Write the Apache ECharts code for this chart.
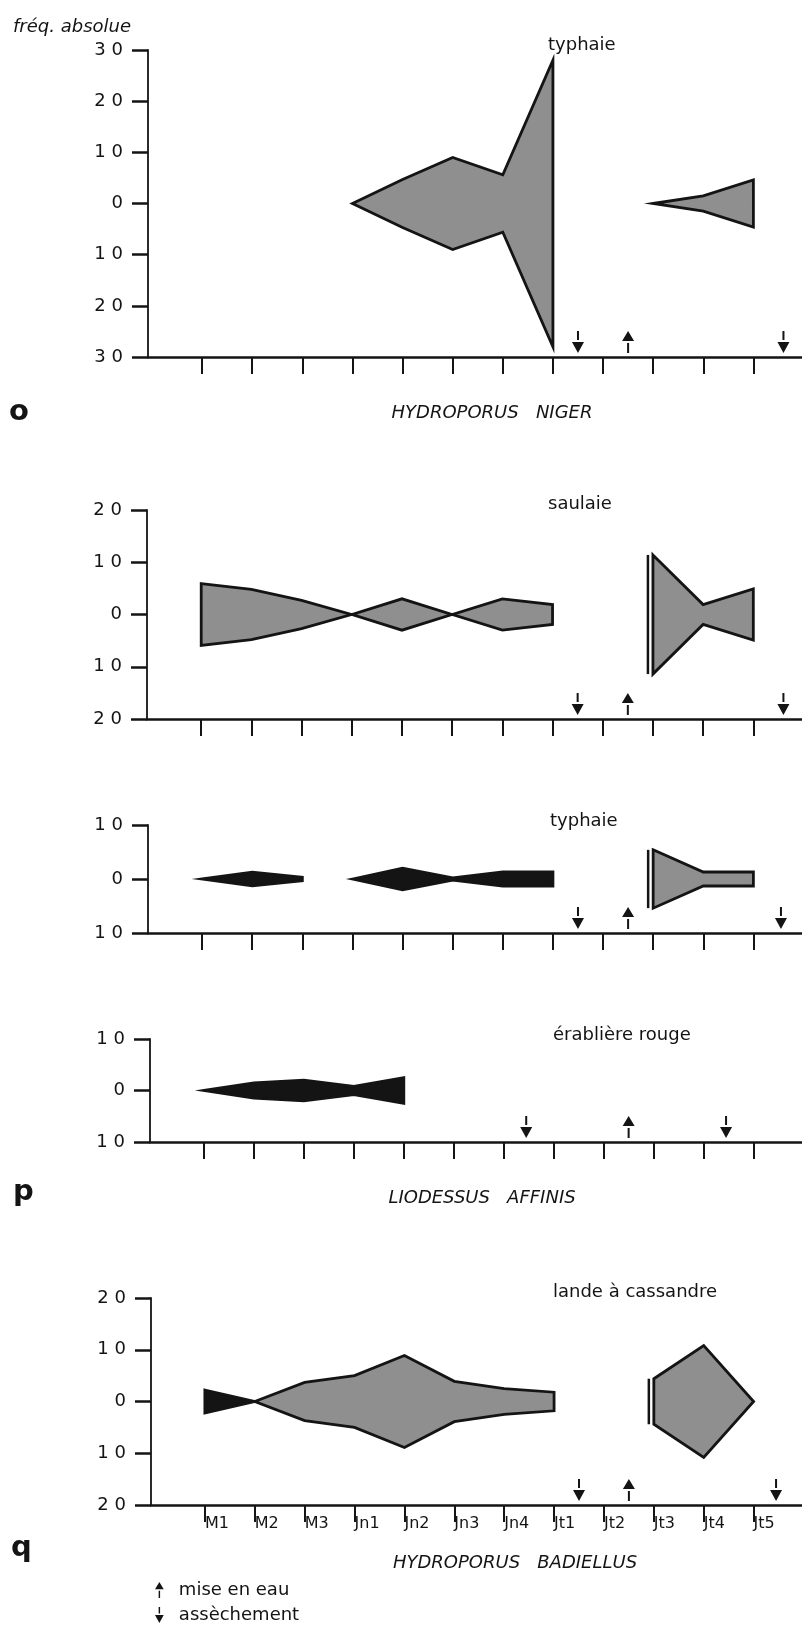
<!DOCTYPE html>
<html>
<head>
<meta charset="utf-8">
<script src="https://cdn.jsdelivr.net/npm/echarts@6/dist/echarts.min.js"></script>
<style>
html, body { margin: 0; padding: 0; background: #fff; }
#chart { width: 802px; height: 1629px; }
</style>
</head>
<body>
<div id="chart"></div>
<script>
// sampling dates (labels under the last panel)
const dates = ['M1', 'M2', 'M3', 'Jn1', 'Jn2', 'Jn3', 'Jn4', 'Jt1', 'Jt2', 'Jt3', 'Jt4', 'Jt5']

// kite half-widths (fréq. absolue) per date, null = no kite
// o  Hydroporus niger, typhaie
const nigerTyphA = [null, null, null, 0, 4.7, 9, 5.6, 28, null, null, null, null]
const nigerTyphB = [null, null, null, null, null, null, null, null, null, 0, 1.5, 4.6]
// p  Liodessus affinis
const affSaulA = [5.9, 4.8, 2.7, 0, 3, 0, 3, 1.9, null, null, null, null]
const affSaulB = [null, null, null, null, null, null, null, null, null, 11.4, 1.9, 4.9]
const affTyphA = [0, 1.25, 0.3, null, null, null, null, null, null, null, null, null]
const affTyphB = [null, null, null, 0, 2, 0.2, 1.3, 1.3, null, null, null, null]
const affTyphC = [null, null, null, null, null, null, null, null, null, 5.4, 1.3, 1.3]
const affErab = [0, 1.5, 2, 0.8, 2.5, null, null, null, null, null, null, null]
// q  Hydroporus badiellus, lande à cassandre
const badLandeA = [2.2, 0, null, null, null, null, null, null, null, null, null, null]
const badLandeB = [null, 0, 3.7, 5, 8.9, 3.9, 2.5, 1.8, null, null, null, null]
const badLandeC = [null, null, null, null, null, null, null, null, null, 4.4, 10.8, 0]

// axis half-range of each panel
const yMax = [30, 20, 10, 10, 20]

// mise en eau (up) / assèchement (down) arrows, in date units
const upArrows = [[9.5], [9.5], [9.5], [9.5], [9.5]]
const downArrows = [[8.5, 12.6], [8.5, 12.6], [8.5, 12.55], [7.45, 11.45], [8.5, 12.45]]

const FONT = 'DejaVu Sans'
const INK = '#141414'
const GREY = '#8f8f8f'
const UP = 'path://M6,0 L12,10 L0,10 Z M5,12 L7,12 L7,22 L5,22 Z'
const DOWN = 'path://M5,0 L7,0 L7,9 L5,9 Z M0,11 L12,11 L6,22 Z'

// y-axis position and vertical extent of each panel
const grids = [
  { left: 148, top: 50, height: 307 },
  { left: 147, top: 510, height: 209 },
  { left: 148, top: 825, height: 108 },
  { left: 150, top: 1039, height: 103 },
  { left: 151, top: 1298, height: 207 }
]

const tickVals = dates.map((d, i) => i + 1)

function kite(g, vals, fill, doubleStart) {
  return {
    type: 'custom', xAxisIndex: g, yAxisIndex: g, silent: true,
    data: vals.map((v, i) => [i + 1, v == null ? 0 : v]),
    encode: { x: 0, y: 1 },
    renderItem(params, api) {
      const i = params.dataIndex
      if (vals[i] == null || (i > 0 && vals[i - 1] != null)) return null
      const top = [], bot = []
      for (let j = i; j < vals.length && vals[j] != null; j++) {
        top.push(api.coord([j + 1, vals[j]]))
        bot.unshift(api.coord([j + 1, -vals[j]]))
      }
      const kids = [{
        type: 'polygon', shape: { points: top.concat(bot) },
        style: { fill, stroke: INK, lineWidth: 2.8, lineJoin: 'miter' }
      }]
      if (doubleStart) {
        const a = top[0], b = bot[bot.length - 1]
        kids.push({ type: 'line', shape: { x1: a[0] - 5, y1: a[1], x2: b[0] - 5, y2: b[1] }, style: { stroke: INK, lineWidth: 2.5 } })
      }
      return { type: 'group', children: kids }
    }
  }
}

function arrows(g, xs, up) {
  return {
    type: 'scatter', name: up ? 'mise en eau' : 'assèchement',
    xAxisIndex: g, yAxisIndex: g, silent: true, z: 5,
    data: xs.map((x) => [x, -yMax[g]]),
    symbol: up ? UP : DOWN, symbolSize: [12, 22], symbolOffset: [0, -15],
    itemStyle: { color: INK, opacity: 1 }
  }
}

const series = [
  kite(0, nigerTyphA, GREY), kite(0, nigerTyphB, GREY),
  kite(1, affSaulA, GREY), kite(1, affSaulB, GREY, true),
  kite(2, affTyphA, INK), kite(2, affTyphB, INK), kite(2, affTyphC, GREY, true),
  kite(3, affErab, INK),
  kite(4, badLandeA, INK), kite(4, badLandeB, GREY), kite(4, badLandeC, GREY, true)
]
grids.forEach((g, i) => {
  series.push(arrows(i, upArrows[i], true))
  series.push(arrows(i, downArrows[i], false))
})

function txt(text, x, y, font, align) {
  return {
    type: 'text', silent: true,
    style: {
      text, x, y, fill: INK, font: font + ' "' + FONT + '"',
      textAlign: align || 'left', textVerticalAlign: 'middle'
    }
  }
}

const chart = echarts.init(document.getElementById('chart'))
chart.setOption({
  animation: false,
  backgroundColor: '#fff',
  textStyle: { fontFamily: FONT, color: INK },
  grid: grids.map((g) => ({ left: g.left, top: g.top, height: g.height, right: 0 })),
  xAxis: grids.map((g, i) => ({
    gridIndex: i, type: 'value', min: -0.08, max: 12.97,
    axisLine: { onZero: false, lineStyle: { color: INK, width: 2.5 } },
    axisTick: { customValues: tickVals, length: 17, lineStyle: { color: INK, width: 2 } },
    axisLabel: {
      show: i === 4, customValues: tickVals, formatter: (v) => dates[Math.round(v) - 1] || '',
      align: 'left', margin: 11, fontSize: 16, color: INK
    },
    splitLine: { show: false }
  })),
  yAxis: grids.map((g, i) => ({
    gridIndex: i, type: 'value', min: -yMax[i], max: yMax[i], interval: 10,
    axisLine: { show: true, onZero: false, lineStyle: { color: INK, width: 1.8 } },
    axisTick: { show: true, length: 16, lineStyle: { color: INK, width: 2.5 } },
    axisLabel: { margin: 25, fontSize: 18, color: INK, formatter: (v) => String(Math.abs(v)).split('').join(' ') },
    splitLine: { show: false }
  })),
  legend: {
    orient: 'vertical', left: 155, top: 1581, padding: 0,
    itemWidth: 9, itemHeight: 16, itemGap: 7,
    selectedMode: false,
    data: [{ name: 'mise en eau', icon: UP }, { name: 'assèchement', icon: DOWN }],
    itemStyle: { color: INK, opacity: 1 },
    textStyle: { fontSize: 18, color: INK, padding: [0, 0, 0, 10] }
  },
  graphic: [
    txt('fréq. absolue', 13, 27, 'italic 18px'),
    txt('typhaie', 548, 45, '18px'),
    txt('saulaie', 548, 504, '18px'),
    txt('typhaie', 550, 821, '18px'),
    txt('érablière rouge', 553, 1035, '18px'),
    txt('lande à cassandre', 553, 1292, '18px'),
    txt('HYDROPORUS   NIGER', 492, 413, 'italic 18px', 'center'),
    txt('LIODESSUS   AFFINIS', 482, 1198, 'italic 18px', 'center'),
    txt('HYDROPORUS   BADIELLUS', 515, 1563, 'italic 18px', 'center'),
    txt('o', 9, 412, 'bold 29px'),
    txt('p', 13, 1192, 'bold 29px'),
    txt('q', 11, 1548, 'bold 29px')
  ],
  series
})
</script>
</body>
</html>
